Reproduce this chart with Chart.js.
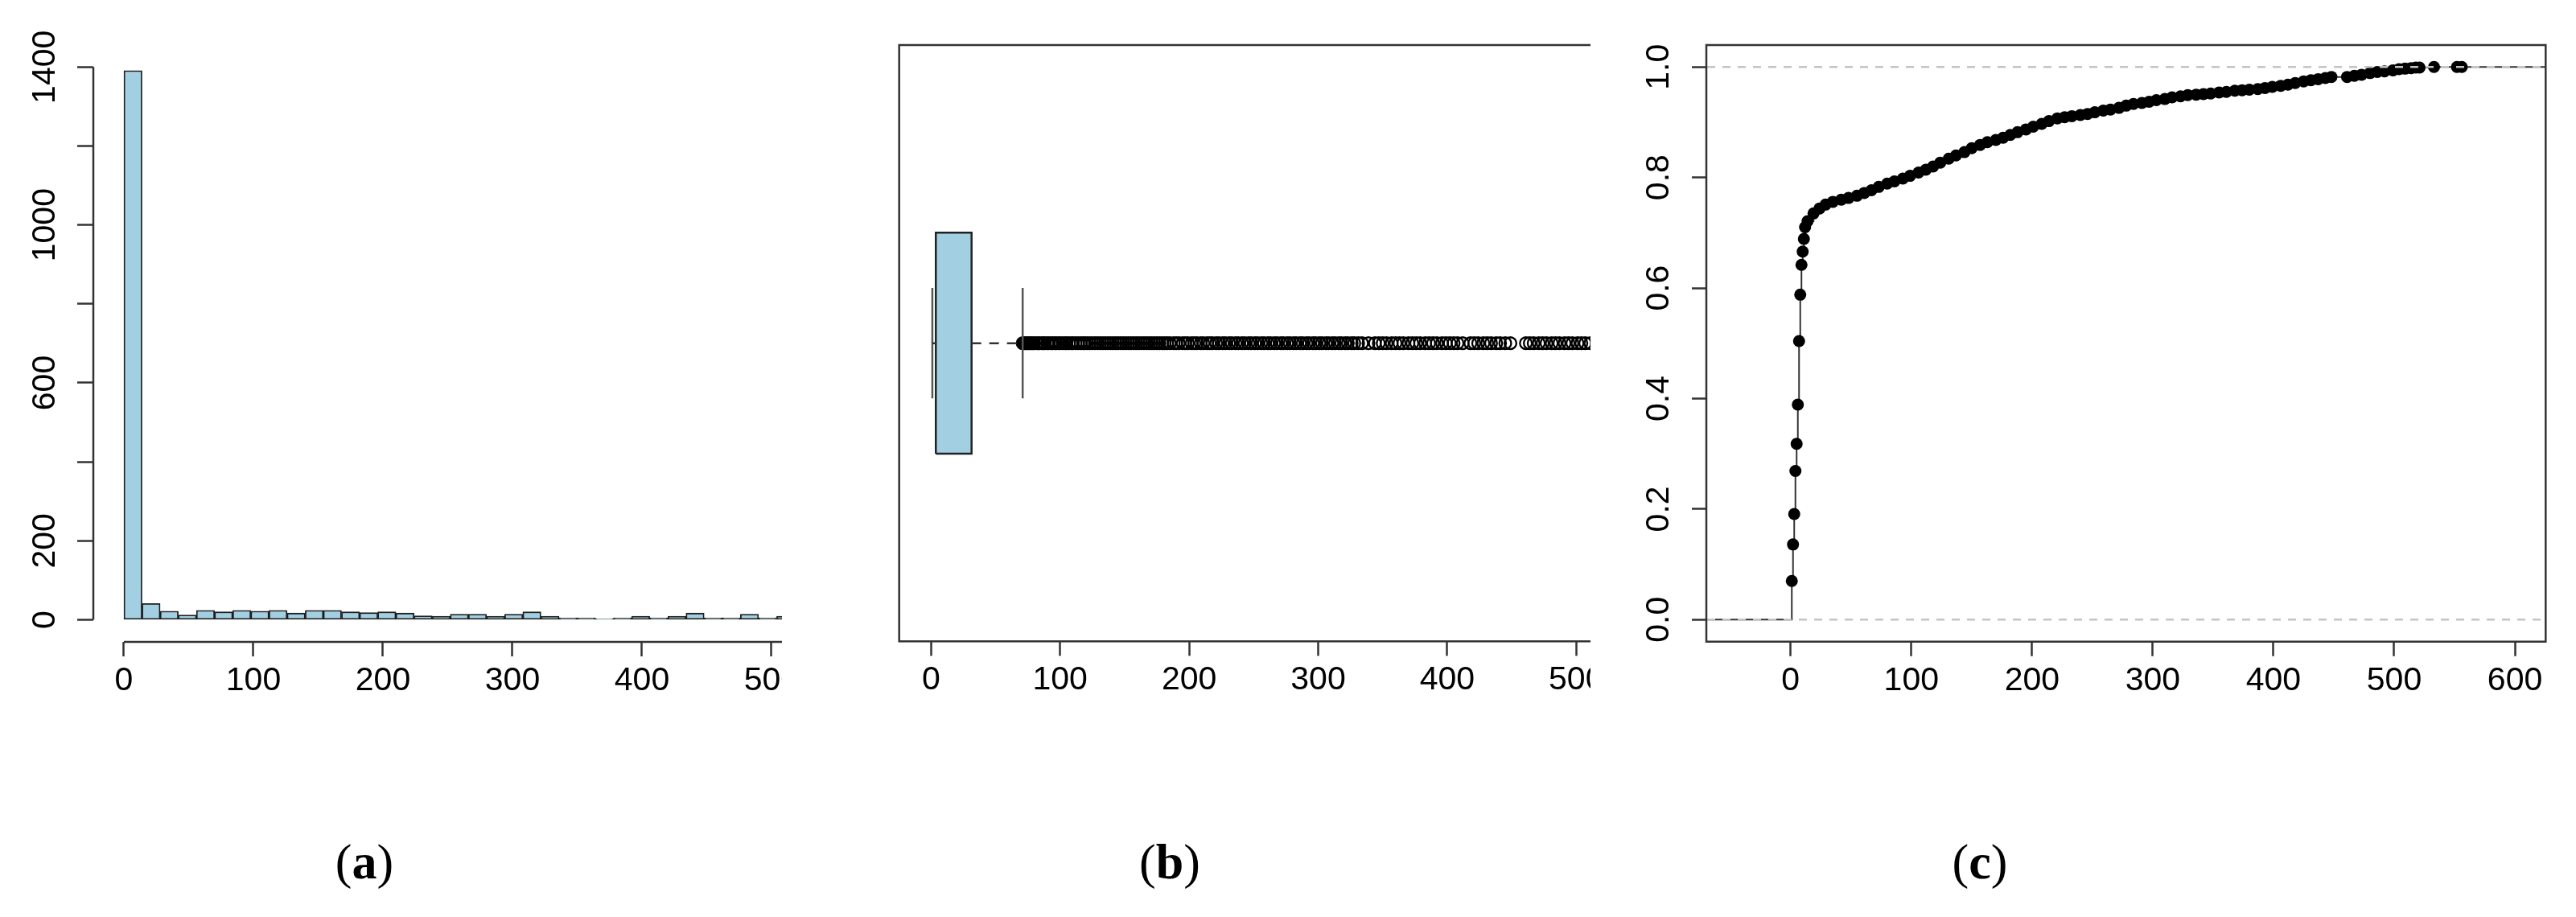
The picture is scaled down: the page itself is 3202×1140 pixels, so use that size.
<!DOCTYPE html>
<html><head><meta charset="utf-8">
<script src="https://cdn.jsdelivr.net/npm/chart.js@4.4.1/dist/chart.umd.min.js"></script>
<style>
html,body{margin:0;padding:0;background:#fff;width:3202px;height:1140px;overflow:hidden;}
.panel{position:absolute;top:0;overflow:hidden;height:900px;}
.cap{position:absolute;top:1036px;font-family:'Liberation Serif','DejaVu Serif',serif;font-size:62px;color:#000;transform:translateX(-50%);white-space:nowrap;}
</style></head><body>
<div class="panel" style="left:0;width:972px"><canvas id="ca" width="1200" height="900"></canvas></div>
<div class="panel" style="left:972px;width:1005px"><canvas id="cb" width="1240" height="900"></canvas></div>
<div class="panel" style="left:1977px;width:1225px"><canvas id="cc" width="1225" height="900"></canvas></div>
<div class="cap" style="left:453px">(<b>a</b>)</div>
<div class="cap" style="left:1454px">(<b>b</b>)</div>
<div class="cap" style="left:2461px">(<b>c</b>)</div>
<script>
// ---------- data ----------
// (a) histogram: bin start values (width 14) and counts
const histBinStart = [0,14,28,42,56,70,84,98,112,126,140,154,168,182,196,210,224,238,252,266,280,294,308,322,336,350,364,378,392,406,420,434,448,462,476,490,504];
const histCounts   = [1391,41,22,12,24,20,24,22,24,17,24,24,20,18,20,17,10,9,14,14,9,14,20,9,5,5,3,5,9,5,9,17,5,5,14,5,9];
const histXTicks = [0,100,200,300,400,500,600];
const histYTicks = [0,200,400,600,800,1000,1200,1400];
const histYLabels = ['0','200','','600','','1000','','1400'];

// (b) boxplot summary and outliers
const boxWhiskerLo = 1, boxQ1 = 3.7, boxMedian = 6, boxQ3 = 31.4, boxWhiskerHi = 71;
const boxOutliers = [71,72,73,74,75,76,77,78,79,80,82,83,84,86,87,88,90,91,93,94,96,97,99,100,102,104,105,107,109,110,112,114,116,118,119,121,123,125,127,129,131,133,135,137,139,141,143,145,147,149,151,153,155,157,159,161,163,165,167,169,171,173,175,177,179,181,183,185,188,190,192,195,197,199,202,204,206,209,211,214,216,218,221,223,226,228,231,233,236,238,241,243,246,248,251,253,256,258,261,263,266,268,271,273,276,278,281,283,286,288,291,293,296,298,301,303,306,308,311,313,316,318,321,323,326,328,331,334,339,344,347,350,353,357,360,363,366,370,373,376,379,383,386,389,392,396,399,402,405,408,412,418,421,424,428,431,434,438,441,445,449,461,464,467,471,474,477,481,484,487,491,494,497,501,504,507,511,516,520,524,533,552,556];
const boxXTicks = [0,100,200,300,400,500,600];

// (c) empirical CDF
const ecdfX = [1,2,3,4,5,6,7,8,9,10,11,12,14,19,24,29,35,42,48,55,61,67,73,80,86,93,99,106,112,118,124,131,137,144,150,157,163,170,176,182,188,195,201,208,214,221,227,233,240,246,252,259,265,272,278,284,291,297,303,310,316,323,329,336,342,348,355,361,368,374,380,387,393,399,406,412,418,425,431,437,443,448,461,467,473,480,486,492,499,504,509,514,518,521,533,552,556];
const ecdfY = [0.07,0.136,0.191,0.269,0.318,0.389,0.504,0.588,0.642,0.666,0.689,0.71,0.721,0.735,0.744,0.751,0.756,0.76,0.763,0.767,0.772,0.777,0.783,0.789,0.793,0.798,0.803,0.809,0.814,0.82,0.827,0.834,0.84,0.846,0.853,0.859,0.864,0.868,0.872,0.877,0.882,0.887,0.892,0.897,0.902,0.907,0.909,0.911,0.913,0.915,0.918,0.921,0.923,0.926,0.93,0.933,0.935,0.937,0.94,0.942,0.945,0.947,0.949,0.95,0.951,0.952,0.954,0.955,0.957,0.958,0.959,0.96,0.962,0.964,0.966,0.968,0.971,0.974,0.976,0.978,0.98,0.982,0.982,0.984,0.986,0.989,0.991,0.992,0.994,0.996,0.997,0.998,0.999,0.999,1,1,1];
const ecdfRefLevels = [0, 1];
const ecdfXTicks = [0,100,200,300,400,500,600];
const ecdfYTicks = [0,0.2,0.4,0.6,0.8,1.0];
const ecdfYLabels = ['0.0','0.2','0.4','0.6','0.8','1.0'];

// ---------- style ----------
Chart.defaults.font.family = "'Liberation Sans', Arial, sans-serif";
Chart.defaults.font.size = 41;
Chart.defaults.color = '#000';
Chart.defaults.animation = false;
Chart.defaults.plugins.legend.display = false;
Chart.defaults.plugins.tooltip.enabled = false;
const INK = '#333333';
const FILL = '#a2d0e2';

function xAxis(min, max, ticks, height) {
  return { type:'linear', position:'bottom', min, max, bounds:'data', offset:false,
    afterBuildTicks: s => { s.ticks = ticks.map(v => ({value:v})); },
    afterFit: s => { s.height = height; },
    ticks: { autoSkip:false, maxRotation:0, minRotation:0, padding:6, color:'#000', callback:(v,i)=>String(ticks[i]) },
    grid: { offset:false, drawOnChartArea:false, drawTicks:true, tickLength:18, tickWidth:2.5, tickColor:INK },
    border: { display:false } };
}
function yAxis(min, max, ticks, labels, width, pad, tl) {
  return { type:'linear', position:'left', min, max, bounds:'data',
    afterBuildTicks: s => { s.ticks = ticks.map(v => ({value:v})); },
    afterFit: s => { s.width = width; },
    ticks: { autoSkip:false, minRotation:90, maxRotation:90, crossAlign:'center', padding:pad, color:'#000', callback:(v,i)=>labels[i] },
    grid: { drawOnChartArea:false, drawTicks:true, tickLength:tl, tickWidth:2.5, tickColor:INK },
    border: { display:false } };
}
const framePlugin = {
  id:'frame',
  afterDatasetsDraw(chart, args, o) {
    const {ctx, chartArea:a, scales} = chart;
    ctx.save(); ctx.strokeStyle = INK; ctx.lineWidth = 2.5;
    if (o.mode === 'box') {
      ctx.strokeRect(a.left, a.top, a.right - a.left, a.bottom - a.top);
    } else if (o.mode === 'axes') {
      const x = scales.x, y = scales.y;
      ctx.beginPath();
      ctx.moveTo(a.left, y.getPixelForValue(o.y0)); ctx.lineTo(a.left, y.getPixelForValue(o.y1));
      ctx.moveTo(x.getPixelForValue(o.x0), a.bottom); ctx.lineTo(x.getPixelForValue(o.x1), a.bottom);
      ctx.stroke();
    }
    ctx.restore();
  }
};

// ---------- (a) histogram ----------
const binW = histBinStart[1] - histBinStart[0];
new Chart(document.getElementById('ca'), {
  type:'bar',
  data:{ datasets:[{ data: histBinStart.map((b,i)=>({x:b + binW/2, y:histCounts[i]})),
    backgroundColor:FILL, borderColor:'#1e1e1e', borderWidth:1.8, borderSkipped:false,
    barPercentage:1, categoryPercentage:1 }] },
  options:{ responsive:false, maintainAspectRatio:false,
    layout:{ padding:{ left:0, top:56, right:62, bottom:0 } },
    scales:{ x: xAxis(-23.6, 611.2, histXTicks, 102),
             y: yAxis(-56.0, 1455.6, histYTicks, histYLabels, 116, -6.6, 20) },
    plugins:{ frame:{ mode:'axes', y0:histYTicks[0], y1:histYTicks[histYTicks.length-1], x0:histXTicks[0], x1:histXTicks[histXTicks.length-1] } } },
  plugins:[framePlugin]
});

// ---------- (b) boxplot ----------
const half = 0.2, cap = 0.1, mid = 1;
new Chart(document.getElementById('cb'), {
  type:'scatter',
  data:{ datasets:[
    { type:'line', data:[{x:boxWhiskerLo,y:mid},{x:boxQ1,y:mid}], borderColor:INK, borderWidth:2.5, borderDash:[12,10], pointRadius:0 },
    { type:'line', data:[{x:boxQ3,y:mid},{x:boxWhiskerHi,y:mid}], borderColor:INK, borderWidth:2.5, borderDash:[12,10], pointRadius:0 },
    { type:'line', data:[{x:boxWhiskerLo,y:mid-cap},{x:boxWhiskerLo,y:mid+cap}], borderColor:'#555', borderWidth:2.5, pointRadius:0 },
    { type:'line', data:[{x:boxWhiskerHi,y:mid-cap},{x:boxWhiskerHi,y:mid+cap}], borderColor:'#555', borderWidth:2.5, pointRadius:0 },
    { type:'line', data:[{x:boxQ1,y:mid-half},{x:boxQ3,y:mid-half},{x:boxQ3,y:mid+half},{x:boxQ1,y:mid+half},{x:boxQ1,y:mid-half}],
      fill:'shape', backgroundColor:FILL, borderColor:'#222', borderWidth:2.5, pointRadius:0, tension:0 },
    { type:'line', data:[{x:boxMedian,y:mid-half},{x:boxMedian,y:mid+half}], borderColor:'#000', borderWidth:6, pointRadius:0 },
    { type:'scatter', data: boxOutliers.map(v=>({x:v,y:mid})), pointStyle:'circle', pointRadius:7.4,
      pointBackgroundColor:'rgba(0,0,0,0)', pointBorderColor:'#000', pointBorderWidth:2.3 }
  ]},
  options:{ responsive:false, maintainAspectRatio:false,
    layout:{ padding:{ left:145.7, top:56, right:72.3, bottom:0 } },
    scales:{ x: xAxis(-24.7, 612.5, boxXTicks, 102.7),
             y: { type:'linear', display:false, min:0.46, max:1.54 } },
    plugins:{ frame:{ mode:'box' } } },
  plugins:[framePlugin]
});

// ---------- (c) ECDF ----------
const cXmin = -69.8, cXmax = 625.5;
const stepData = [{x:cXmin-50, y:0}].concat(ecdfX.map((v,i)=>({x:v,y:ecdfY[i]}))).concat([{x:cXmax+50, y:ecdfY[ecdfY.length-1]}]);
new Chart(document.getElementById('cc'), {
  type:'scatter',
  data:{ datasets:[
    ...ecdfRefLevels.map(l => ({ type:'line', data:[{x:cXmin-50,y:l},{x:cXmax+50,y:l}], borderColor:'#c4c4c4', borderWidth:2.5, borderDash:[10,9], pointRadius:0 })),
    { type:'line', data: stepData, stepped:'before', borderColor:'#333', borderWidth:2,
      pointRadius: c => (c.dataIndex === 0 || c.dataIndex === stepData.length-1) ? 0 : 7.5,
      pointBackgroundColor:'#000', pointBorderWidth:0 }
  ]},
  options:{ responsive:false, maintainAspectRatio:false,
    layout:{ padding:{ left:0, top:56, right:37.7, bottom:0 } },
    scales:{ x: xAxis(cXmin, cXmax, ecdfXTicks, 102.3),
             y: yAxis(-0.0399, 1.0397, ecdfYTicks, ecdfYLabels, 144, 11.5, 18) },
    plugins:{ frame:{ mode:'box' } } },
  plugins:[framePlugin]
});
</script>
</body></html>
